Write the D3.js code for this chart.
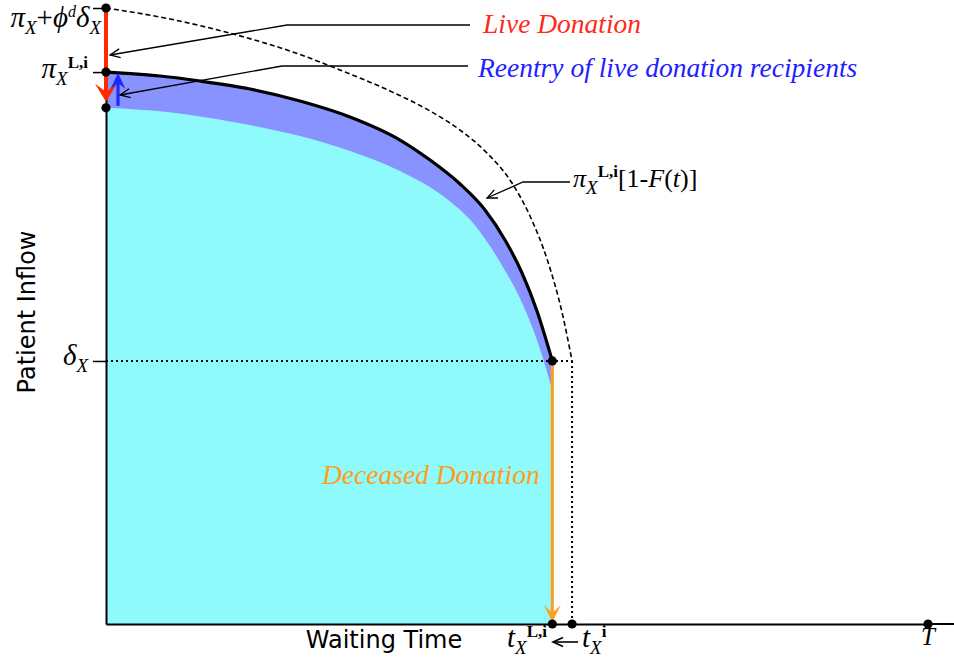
<!DOCTYPE html>
<html>
<head>
<meta charset="utf-8">
<script src="https://cdn.jsdelivr.net/npm/d3@7"></script>
<style>
  html, body { margin: 0; padding: 0; background: #ffffff; }
  svg { display: block; }
</style>
</head>
<body>
<svg id="chart" width="954" height="664"></svg>
<script>
// Waiting time (t, 0..T=100) vs. patient inflow (0..100 = π_X + φ^d δ_X)

// Inflow before live donation: π_X + φ^d δ_X falling to δ_X at t_X^i
const grossCurve = [
  [0, 100], [7.79, 98.21], [15.45, 95.78], [22.38, 93.02], [28.47, 89.94],
  [34.55, 86.53], [39.42, 83.28], [43.07, 80.19], [46.35, 76.46], [49.39, 71.59],
  [51.58, 66.23], [53.77, 58.77], [55.47, 50.65], [56.7, 42.7]
];
// π_X^{L,i}[1-F(t)]
const survivalCurve = [
  [0, 89.6], [6.57, 88.96], [11.44, 88.15], [17.52, 86.85], [23.6, 84.9],
  [29.68, 82.31], [35.77, 78.57], [39.42, 75.32], [43.07, 71.43], [46.11, 67.21],
  [48.54, 62.34], [50.61, 56.98], [52.43, 50.81], [54.3, 42.7]
];
// Inflow net of live donation (cyan region)
const netCurve = [
  [0, 83.8], [7.42, 83.1], [15.45, 81.49], [23.6, 79.22], [29.68, 76.79],
  [35.77, 73.54], [41.48, 68.99], [44.65, 65.1], [47.93, 58.77], [50.73, 51.79],
  [52.43, 46.1], [54.3, 38.0]
];

const yTickValues = [100, 89.6, 42.7];   // π_X+φ^dδ_X, π_X^{L,i}, δ_X
const grossTop = 100;
const liveLevel = 89.6;
const netStart = 83.8;
const deltaX = 42.7;
const tLi = 54.3;    // t_X^{L,i}
const ti = 56.7;     // t_X^i
const horizon = 100; // T

const W = 954, H = 664;
const svg = d3.select("#chart");

const x = d3.scaleLinear().domain([0, 100]).range([106, 928]);
const y = d3.scaleLinear().domain([0, 100]).range([624, 8]);

const SERIF = "'Liberation Serif', 'Times New Roman', serif";
const SANS = "'DejaVu Sans', 'Lucida Grande', sans-serif";

const line = d3.line().x(d => x(d[0])).y(d => y(d[1])).curve(d3.curveMonotoneX);
const area = d3.area().x(d => x(d[0])).y0(y(0)).y1(d => y(d[1])).curve(d3.curveMonotoneX);

// Filled regions
svg.append("path").attr("d", area(survivalCurve)).attr("fill", "#8893ff");
svg.append("path").attr("d", area(netCurve)).attr("fill", "#8ffafb");

// Dotted guides at δ_X and t_X^i
svg.append("line")
  .attr("x1", x(0)).attr("x2", x(ti)).attr("y1", y(deltaX)).attr("y2", y(deltaX))
  .attr("stroke", "#000").attr("stroke-width", 2).attr("stroke-dasharray", "2,3");
svg.append("line")
  .attr("x1", x(ti)).attr("x2", x(ti)).attr("y1", y(deltaX)).attr("y2", y(0))
  .attr("stroke", "#000").attr("stroke-width", 2).attr("stroke-dasharray", "2,3");

// Dashed gross inflow curve
svg.append("path").attr("d", line(grossCurve))
  .attr("fill", "none").attr("stroke", "#000").attr("stroke-width", 1.6)
  .attr("stroke-dasharray", "5,3");

// Solid survival curve
svg.append("path").attr("d", line(survivalCurve))
  .attr("fill", "none").attr("stroke", "#000").attr("stroke-width", 3.2);

// Axes
const yAxis = d3.axisLeft(y).tickValues(yTickValues).tickSize(13).tickSizeOuter(0).tickFormat("");
const gy = svg.append("g").attr("transform", `translate(${x(0)},0)`).call(yAxis);
gy.select(".domain").attr("stroke-width", 2);
gy.selectAll(".tick line").attr("stroke-width", 1.5);

const xAxis = d3.axisBottom(x).tickValues([]).tickSizeOuter(0);
const gx = svg.append("g").attr("transform", `translate(0,${y(0)})`).call(xAxis);
gx.select(".domain").attr("stroke-width", 2);
svg.append("line").attr("x1", x(horizon)).attr("x2", W).attr("y1", y(0)).attr("y2", y(0))
  .attr("stroke", "#000").attr("stroke-width", 2);

// Arrowhead with a notched back
function headPath(tx, ty, dir, halfW, back, notch) {
  // dir = +1 points down, -1 points up
  return `M${tx},${ty} L${tx - halfW},${ty - dir * back} L${tx},${ty - dir * notch} L${tx + halfW},${ty - dir * back} Z`;
}

// Live donation (red, downward)
const redTip = y(netStart) - 6;
svg.append("line").attr("x1", x(0)).attr("x2", x(0)).attr("y1", y(grossTop)).attr("y2", redTip - 9)
  .attr("stroke", "#ff2a00").attr("stroke-width", 4);
svg.append("path").attr("d", headPath(x(0), redTip, 1, 11, 18, 10)).attr("fill", "#ff2a00");

// Reentry (blue, upward)
const bx = x(0) + 12;
const blueTip = y(liveLevel) + 1;
svg.append("line").attr("x1", bx).attr("x2", bx).attr("y1", y(netStart) - 2).attr("y2", blueTip + 10)
  .attr("stroke", "#1a2aff").attr("stroke-width", 3.2);
svg.append("path").attr("d", headPath(bx, blueTip, -1, 7.5, 16, 10)).attr("fill", "#1a2aff");

// Deceased donation (orange, downward)
const orTip = y(0) - 2;
svg.append("line").attr("x1", x(tLi)).attr("x2", x(tLi)).attr("y1", y(deltaX)).attr("y2", orTip - 8)
  .attr("stroke", "#ff9d1c").attr("stroke-width", 3);
svg.append("path").attr("d", headPath(x(tLi), orTip, 1, 8.5, 17, 9)).attr("fill", "#ff9d1c");

// Key points
const keyPoints = [[0, grossTop], [0, liveLevel], [0, netStart], [tLi, deltaX], [tLi, 0], [ti, 0], [horizon, 0]];
svg.selectAll("circle.key").data(keyPoints).join("circle")
  .attr("class", "key")
  .attr("cx", d => x(d[0])).attr("cy", d => y(d[1])).attr("r", 4.6).attr("fill", "#000");

// Leader lines with open arrowheads
function leader(points, width) {
  const sw = width || 1.3;
  svg.append("polyline").attr("points", points.map(p => p.join(",")).join(" "))
    .attr("fill", "none").attr("stroke", "#000").attr("stroke-width", sw);
  const [p1, p0] = [points[points.length - 2], points[points.length - 1]];
  const ang = Math.atan2(p1[1] - p0[1], p1[0] - p0[0]);
  const len = 11, spread = 0.42;
  const a = [p0[0] + len * Math.cos(ang + spread), p0[1] + len * Math.sin(ang + spread)];
  const b = [p0[0] + len * Math.cos(ang - spread), p0[1] + len * Math.sin(ang - spread)];
  svg.append("path").attr("d", `M${a[0]},${a[1]} L${p0[0]},${p0[1]} L${b[0]},${b[1]}`)
    .attr("fill", "none").attr("stroke", "#000").attr("stroke-width", sw);
}
leader([[470, 25], [287, 25], [x(0) + 4, 55]]);
leader([[468, 66], [282, 66], [x(0) + 14, 95]]);
leader([[570, 182], [523, 182], [487, 198]]);
// arrow between t_X^i and t_X^{L,i}
leader([[578, 642], [553, 642]], 1.6);

// Annotation texts
function note(txt, tx, ty, color) {
  svg.append("text").attr("x", tx).attr("y", ty).text(txt)
    .attr("font-family", SERIF).attr("font-style", "italic").attr("font-size", 27.5)
    .attr("fill", color);
}
note("Live Donation", 483, 33, "#ff2a1a");
note("Reentry of live donation recipients", 478, 77, "#1f22ff");
note("Deceased Donation", 322, 484, "#ff9d1c");

// Math label: parts = [{t, sub, sup, italic, bold, size}]
function mathLabel(tx, ty, anchor, parts, size) {
  const t = svg.append("text").attr("x", tx).attr("y", ty)
    .attr("text-anchor", anchor).attr("font-family", SERIF).attr("font-size", size)
    .attr("fill", "#000");
  let shift = 0;
  parts.forEach(p => {
    let target = 0;
    if (p.sub) target = 7;
    if (p.sup) target = -10;
    const ts = t.append("tspan").text(p.t).attr("dy", target - shift);
    shift = target;
    if (p.size) ts.attr("font-size", p.size);
    ts.attr("font-style", p.italic === false ? "normal" : "italic");
    if (p.bold) ts.attr("font-weight", "bold");
  });
  return t;
}

// y-axis labels
mathLabel(101, 27, "end", [
  { t: "π" }, { t: "X", sub: true, size: 19 }, { t: "+", italic: false },
  { t: "ϕ" }, { t: "d", sup: true, size: 16 }, { t: "δ" }, { t: "X", sub: true, size: 19 }
], 29);
mathLabel(88, y(liveLevel) + 6, "end", [
  { t: "π" }, { t: "X", sub: true, size: 19 }, { t: "L,i", sup: true, size: 17, italic: false, bold: true }
], 29);
mathLabel(88, y(deltaX) + 4, "end", [
  { t: "δ" }, { t: "X", sub: true, size: 19 }
], 29);

// Curve label
mathLabel(573, 187, "start", [
  { t: "π" }, { t: "X", sub: true, size: 19 }, { t: "L,i", sup: true, size: 17, italic: false, bold: true },
  { t: "[1-", italic: false }, { t: "F" }, { t: "(", italic: false }, { t: "t" }, { t: ")]", italic: false }
], 26);

// x-axis labels
mathLabel(507, 647, "start", [
  { t: "t" }, { t: "X", sub: true, size: 19 }, { t: "L,i", sup: true, size: 17, italic: false, bold: true }
], 29);
mathLabel(582, 647, "start", [
  { t: "t" }, { t: "X", sub: true, size: 19 }, { t: "i", sup: true, size: 17, italic: false, bold: true }
], 29);
mathLabel(x(horizon), 645, "middle", [{ t: "T" }], 25);

// Axis titles
svg.append("text").attr("transform", `translate(35,312) rotate(-90)`)
  .attr("text-anchor", "middle").attr("font-family", SANS).attr("font-size", 24)
  .attr("fill", "#000").text("Patient Inflow");
svg.append("text").attr("x", 384).attr("y", 648)
  .attr("text-anchor", "middle").attr("font-family", SANS).attr("font-size", 24)
  .attr("fill", "#000").text("Waiting Time");
</script>
</body>
</html>
